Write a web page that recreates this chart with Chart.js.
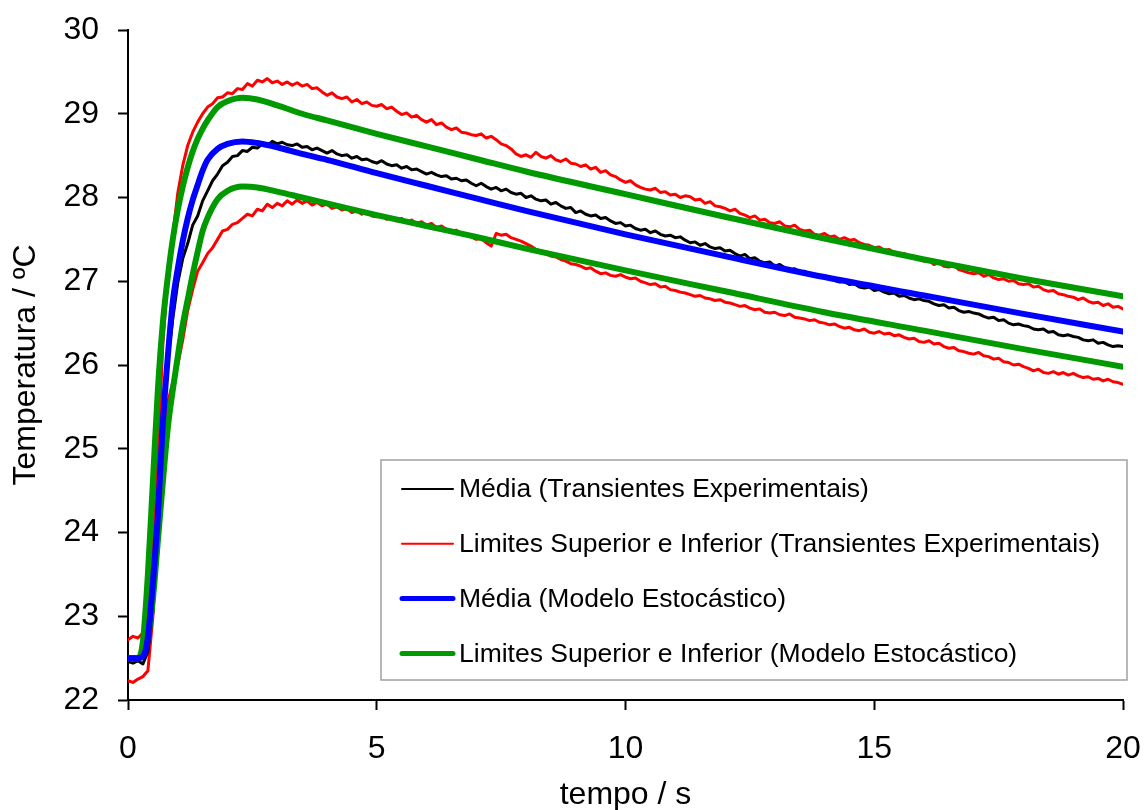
<!DOCTYPE html>
<html>
<head>
<meta charset="utf-8">
<script src="https://cdn.jsdelivr.net/npm/chart.js@4.4.1/dist/chart.umd.min.js"></script>
<style>
  body { margin: 0; background: #fff; }
  #wrap { width: 1144px; height: 810px; }
</style>
</head>
<body>
<div id="wrap"><canvas id="grafico" width="1144" height="810"></canvas></div>
<script>
// experimental transients are sampled every 0.1 s, from 0 to 20 s
const sampleStep = 0.1;
const timeExp = Array.from({ length: 201 }, (_, i) => +(i * sampleStep).toFixed(1));

const mediaExp = [
  22.46, 22.44, 22.47, 22.43, 22.58, 23.05, 24.0, 25.35, 26.05, 26.55,
  26.98, 27.27, 27.45, 27.67, 27.78, 27.96, 28.08, 28.2, 28.28, 28.38,
  28.42, 28.49, 28.5, 28.56, 28.55, 28.6, 28.59, 28.64, 28.62, 28.67,
  28.64, 28.66, 28.63, 28.62, 28.64, 28.6, 28.61, 28.57, 28.59, 28.56,
  28.53, 28.56, 28.52, 28.5, 28.51, 28.47, 28.49, 28.45, 28.46, 28.43,
  28.41, 28.44, 28.4, 28.38, 28.39, 28.35, 28.37, 28.33, 28.34, 28.31,
  28.28, 28.3, 28.27, 28.25, 28.26, 28.22, 28.23, 28.2, 28.21, 28.17,
  28.14, 28.17, 28.13, 28.1, 28.12, 28.08, 28.1, 28.06, 28.04, 28.05,
  28.0, 28.02, 27.98, 27.96, 27.97, 27.92, 27.94, 27.9, 27.87, 27.88,
  27.82, 27.84, 27.8, 27.78, 27.79, 27.75, 27.76, 27.72, 27.69, 27.7,
  27.66, 27.67, 27.63, 27.61, 27.62, 27.58, 27.6, 27.56, 27.54, 27.55,
  27.52, 27.53, 27.49, 27.46, 27.47, 27.43, 27.45, 27.41, 27.39, 27.4,
  27.36, 27.37, 27.33, 27.3, 27.32, 27.27, 27.28, 27.24, 27.22, 27.23,
  27.18, 27.2, 27.16, 27.13, 27.15, 27.11, 27.12, 27.08, 27.06, 27.07,
  27.04, 27.05, 27.01, 26.99, 27.0, 26.96, 26.97, 26.93, 26.92, 26.93,
  26.89, 26.9, 26.87, 26.85, 26.86, 26.82, 26.83, 26.8, 26.78, 26.79,
  26.77, 26.76, 26.73, 26.71, 26.72, 26.68, 26.69, 26.65, 26.63, 26.64,
  26.62, 26.61, 26.58, 26.56, 26.57, 26.53, 26.54, 26.5, 26.48, 26.49,
  26.47, 26.46, 26.43, 26.42, 26.43, 26.39, 26.4, 26.36, 26.35, 26.36,
  26.34, 26.33, 26.3, 26.29, 26.3, 26.26, 26.27, 26.24, 26.22, 26.23,
  26.22
];

const limSupExp = [
  22.72, 22.76, 22.74, 22.8, 23.1, 23.75, 24.9, 26.25, 27.05, 27.55,
  28.05, 28.38, 28.62, 28.78, 28.9, 29.0, 29.08, 29.12, 29.19, 29.2,
  29.25, 29.24, 29.3, 29.29, 29.36, 29.33, 29.4, 29.38, 29.42, 29.37,
  29.39, 29.35, 29.38, 29.34, 29.37, 29.33, 29.35, 29.3, 29.31, 29.26,
  29.22, 29.25, 29.2, 29.18, 29.2, 29.14, 29.17, 29.12, 29.14, 29.1,
  29.09, 29.11, 29.06, 29.08, 29.03, 28.99, 29.01, 28.96, 28.98, 28.93,
  28.9, 28.93, 28.87, 28.89, 28.84, 28.81, 28.83, 28.78, 28.77, 28.75,
  28.74, 28.76, 28.71, 28.73, 28.69, 28.64, 28.62, 28.58, 28.52, 28.49,
  28.51, 28.48, 28.54, 28.49, 28.47, 28.5, 28.45, 28.43, 28.46, 28.41,
  28.4, 28.37, 28.39, 28.34, 28.36, 28.3, 28.32, 28.27, 28.25, 28.21,
  28.18, 28.2, 28.15, 28.12, 28.1, 28.09, 28.11, 28.06, 28.07, 28.03,
  28.04, 28.0, 28.02, 28.01, 27.97, 27.98, 27.93, 27.95, 27.9, 27.89,
  27.87, 27.84, 27.86, 27.81, 27.79, 27.76, 27.78, 27.73, 27.74, 27.7,
  27.69, 27.71, 27.66, 27.65, 27.67, 27.62, 27.6, 27.61, 27.56, 27.55,
  27.57, 27.53, 27.54, 27.5, 27.52, 27.49, 27.5, 27.46, 27.44, 27.43,
  27.4, 27.41, 27.37, 27.38, 27.34, 27.32, 27.33, 27.29, 27.3, 27.26,
  27.24, 27.25, 27.2, 27.22, 27.18, 27.17, 27.19, 27.14, 27.12, 27.1,
  27.09, 27.1, 27.06, 27.08, 27.04, 27.02, 27.03, 27.0, 27.01, 26.97,
  26.96, 26.97, 26.93, 26.94, 26.9, 26.88, 26.89, 26.85, 26.84, 26.82,
  26.81, 26.78, 26.8, 26.76, 26.74, 26.75, 26.71, 26.73, 26.69, 26.7,
  26.67
];

const limInfExp = [
  22.23, 22.21, 22.25, 22.28, 22.35, 23.0, 24.0, 25.0, 25.55, 25.8,
  26.0, 26.3, 26.65, 26.9, 27.12, 27.22, 27.33, 27.4, 27.5, 27.6,
  27.62, 27.68, 27.7, 27.75, 27.8, 27.78, 27.86, 27.84, 27.92, 27.88,
  27.93, 27.9, 27.96, 27.92, 27.97, 27.93, 27.96, 27.91, 27.94, 27.9,
  27.92, 27.87, 27.89, 27.85, 27.87, 27.82, 27.84, 27.8, 27.83, 27.78,
  27.77, 27.79, 27.74, 27.76, 27.72, 27.75, 27.7, 27.73, 27.69, 27.71,
  27.67, 27.69, 27.64, 27.66, 27.62, 27.6, 27.61, 27.57, 27.55, 27.53,
  27.5, 27.51, 27.46, 27.42, 27.57, 27.55, 27.56, 27.52, 27.5, 27.48,
  27.45, 27.42, 27.38, 27.36, 27.33, 27.3, 27.29, 27.26, 27.24, 27.21,
  27.2, 27.18, 27.15, 27.16, 27.12, 27.09, 27.1, 27.07, 27.06, 27.08,
  27.05, 27.03, 27.04, 27.0, 26.98, 26.96, 26.97, 26.93, 26.94, 26.9,
  26.89, 26.87, 26.86, 26.84, 26.82, 26.83, 26.8, 26.79, 26.77, 26.78,
  26.75, 26.74, 26.72, 26.7, 26.71, 26.68, 26.66, 26.67, 26.63, 26.62,
  26.63, 26.6, 26.59, 26.61, 26.57, 26.56, 26.55, 26.53, 26.54, 26.51,
  26.5, 26.48, 26.49, 26.46, 26.44, 26.45, 26.42, 26.41, 26.43, 26.39,
  26.38, 26.4, 26.37, 26.38, 26.35, 26.36, 26.33, 26.31, 26.32, 26.28,
  26.27, 26.29, 26.25, 26.26, 26.22, 26.2, 26.21, 26.17, 26.16, 26.14,
  26.13, 26.15, 26.11, 26.1, 26.07, 26.08, 26.04, 26.03, 26.0, 26.01,
  25.98, 25.96, 25.93, 25.95, 25.91, 25.9, 25.92, 25.89, 25.91, 25.88,
  25.9, 25.87, 25.85, 25.86, 25.83, 25.84, 25.81, 25.83, 25.8, 25.79,
  25.77
];

// stochastic model: smooth curves, fewer nodes
const timeModel = [0, 0.2, 0.3, 0.4, 0.5, 0.6, 0.7, 0.8, 0.9, 1.0, 1.1, 1.2, 1.3, 1.4, 1.5, 1.6, 1.8, 2.0, 2.3, 2.6, 3.0, 3.5, 4, 5, 6, 7, 8, 10, 12, 14, 16, 18, 20];
const mediaModel = [22.5, 22.5, 22.52, 22.75, 23.4, 24.2, 25.3, 26.1, 26.75, 27.15, 27.48, 27.75, 27.97, 28.15, 28.32, 28.45, 28.58, 28.64, 28.67, 28.65, 28.6, 28.52, 28.45, 28.29, 28.14, 27.99, 27.84, 27.56, 27.3, 27.05, 26.83, 26.61, 26.4];
const limSupModel = [22.5, 22.5, 22.7, 23.5, 24.6, 25.7, 26.5, 27.05, 27.5, 27.85, 28.13, 28.36, 28.55, 28.7, 28.82, 28.92, 29.08, 29.15, 29.19, 29.17, 29.1, 29.0, 28.92, 28.76, 28.61, 28.46, 28.31, 28.04, 27.77, 27.51, 27.26, 27.03, 26.82];
const limInfModel = [22.5, 22.5, 22.55, 22.75, 23.2, 23.9, 24.6, 25.25, 25.7, 26.1, 26.48, 26.78, 27.08, 27.35, 27.6, 27.76, 27.98, 28.08, 28.13, 28.12, 28.07, 28.0, 27.93, 27.79, 27.66, 27.53, 27.39, 27.13, 26.88, 26.63, 26.41, 26.19, 25.98];

const yTicks = [22, 23, 24, 25, 26, 27, 28, 29, 30];
const xTicks = [0, 5, 10, 15, 20];

const legendItems = [
  { text: 'Média (Transientes Experimentais)', color: '#000000', width: 2 },
  { text: 'Limites Superior e Inferior (Transientes Experimentais)', color: '#ff0000', width: 2 },
  { text: 'Média (Modelo Estocástico)', color: '#0000ff', width: 5 },
  { text: 'Limites Superior e Inferior (Modelo Estocástico)', color: '#009900', width: 5 }
];

function toPoints(xs, ys) {
  return ys.map((y, i) => ({ x: xs[i], y: y }));
}

Chart.defaults.font.family = "'Liberation Sans', Arial, sans-serif";
Chart.defaults.color = '#000';

// legend box drawn inside the plot, lower right
const boxLegend = {
  id: 'boxLegend',
  afterDraw(chart) {
    const c = chart.ctx;
    const left = 381, top = 460, right = 1127, bottom = 680;
    c.save();
    c.fillStyle = '#fff';
    c.fillRect(left, top, right - left, bottom - top);
    c.strokeStyle = '#a0a0a0';
    c.lineWidth = 1.5;
    c.strokeRect(left, top, right - left, bottom - top);
    c.font = "26.5px 'Liberation Sans', Arial, sans-serif";
    c.textBaseline = 'middle';
    c.textAlign = 'left';
    legendItems.forEach((item, i) => {
      const y = 489 + i * 54.8;
      c.strokeStyle = item.color;
      c.lineWidth = item.width;
      c.lineCap = 'round';
      c.beginPath();
      c.moveTo(402, y);
      c.lineTo(453, y);
      c.stroke();
      c.fillStyle = '#000';
      c.fillText(item.text, 459, y + 1);
    });
    c.restore();
  }
};

const ctx = document.getElementById('grafico');

new Chart(ctx, {
  type: 'line',
  data: {
    datasets: [
      {
        label: 'Média (Modelo Estocástico)',
        data: toPoints(timeModel, mediaModel),
        borderColor: '#0000ff',
        borderWidth: 6,
        cubicInterpolationMode: 'monotone'
      },
      {
        label: 'Limite Superior (Modelo Estocástico)',
        data: toPoints(timeModel, limSupModel),
        borderColor: '#009900',
        borderWidth: 6,
        cubicInterpolationMode: 'monotone'
      },
      {
        label: 'Limite Inferior (Modelo Estocástico)',
        data: toPoints(timeModel, limInfModel),
        borderColor: '#009900',
        borderWidth: 6,
        cubicInterpolationMode: 'monotone'
      },
      {
        label: 'Média (Transientes Experimentais)',
        data: toPoints(timeExp, mediaExp),
        borderColor: '#000000',
        borderWidth: 3
      },
      {
        label: 'Limite Superior (Transientes Experimentais)',
        data: toPoints(timeExp, limSupExp),
        borderColor: '#ff0000',
        borderWidth: 3
      },
      {
        label: 'Limite Inferior (Transientes Experimentais)',
        data: toPoints(timeExp, limInfExp),
        borderColor: '#ff0000',
        borderWidth: 3
      }
    ]
  },
  options: {
    responsive: false,
    animation: false,
    elements: {
      point: { radius: 0 },
      line: { tension: 0, borderCapStyle: 'round', borderJoinStyle: 'round' }
    },
    layout: { padding: { left: 0, top: 30, right: 21, bottom: 0 } },
    scales: {
      x: {
        type: 'linear',
        min: 0,
        max: 20,
        afterBuildTicks: (axis) => { axis.ticks = xTicks.map(v => ({ value: v })); },
        afterFit: (axis) => {
          axis.height = 110;
          // labels may overhang the canvas edge; keep the plot box fixed
          axis.paddingLeft = 0;
          axis.paddingRight = 0;
        },
        border: { display: true, color: '#000', width: 2 },
        grid: { drawOnChartArea: false, drawTicks: true, tickLength: 10, tickColor: '#000', tickWidth: 2 },
        ticks: { font: { size: 32 }, color: '#000', padding: 20, maxRotation: 0 },
        title: { display: true, text: 'tempo / s', font: { size: 32 }, color: '#000', padding: { top: 0, bottom: -4 } }
      },
      y: {
        min: 22,
        max: 30,
        afterBuildTicks: (axis) => { axis.ticks = yTicks.map(v => ({ value: v })); },
        afterFit: (axis) => {
          axis.width = 128;
          axis.paddingTop = 0;
          axis.paddingBottom = 0;
        },
        border: { display: true, color: '#000', width: 2 },
        grid: { drawOnChartArea: false, drawTicks: true, tickLength: 10, tickColor: '#000', tickWidth: 2 },
        ticks: { font: { size: 32 }, color: '#000', padding: 19 },
        title: { display: true, text: 'Temperatura / ºC', font: { size: 32 }, color: '#000', padding: { top: 7, bottom: 0 } }
      }
    },
    plugins: {
      legend: { display: false },
      tooltip: { enabled: false }
    }
  },
  plugins: [boxLegend]
});
</script>
</body>
</html>
